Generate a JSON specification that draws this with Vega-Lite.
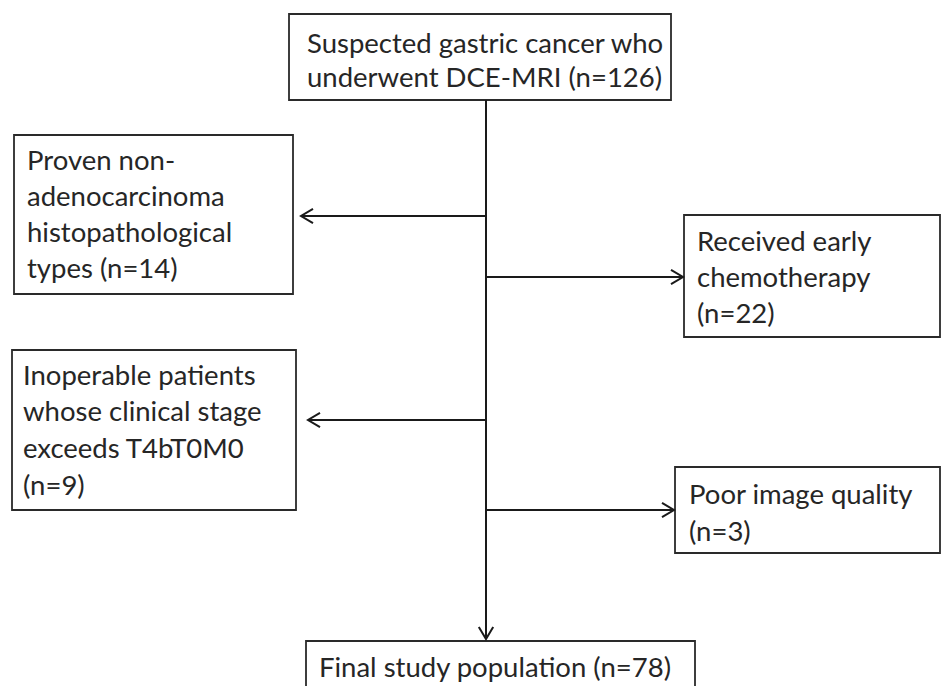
{
  "$schema": "https://vega.github.io/schema/vega-lite/v6.json",
  "width": 942,
  "height": 686,
  "padding": 0,
  "autosize": {"type": "none"},
  "background": "white",
  "config": {"view": {"stroke": null}},
  "datasets": {
    "boxes": [
      {"id": "top", "x": 289, "x2": 671, "y": 14, "y2": 100},
      {"id": "proven", "x": 14, "x2": 293, "y": 135, "y2": 294},
      {"id": "received", "x": 684, "x2": 940, "y": 215, "y2": 337},
      {"id": "inoperable", "x": 12, "x2": 296, "y": 350, "y2": 510},
      {"id": "poor", "x": 675, "x2": 940, "y": 467, "y2": 553},
      {"id": "final", "x": 306, "x2": 695, "y": 641, "y2": 700}
    ],
    "lines": [
      {"id": "trunk", "x": 486, "x2": 486, "y": 100, "y2": 638},
      {"id": "a1", "x": 486, "x2": 302, "y": 216, "y2": 216},
      {"id": "a2", "x": 486, "x2": 682, "y": 277, "y2": 277},
      {"id": "a3", "x": 486, "x2": 309, "y": 420, "y2": 420},
      {"id": "a4", "x": 486, "x2": 673, "y": 510, "y2": 510}
    ],
    "heads": [
      {"x": 301, "y": 216, "dir": "left"},
      {"x": 683, "y": 277, "dir": "right"},
      {"x": 308, "y": 420, "dir": "left"},
      {"x": 674, "y": 510, "dir": "right"},
      {"x": 486, "y": 639, "dir": "down"}
    ],
    "labels": [
      {"x": 307, "y": 45, "text": "Suspected gastric cancer who"},
      {"x": 307, "y": 79, "text": "underwent DCE-MRI (n=126)"},
      {"x": 27, "y": 162, "text": "Proven non-"},
      {"x": 27, "y": 198, "text": "adenocarcinoma"},
      {"x": 27, "y": 234, "text": "histopathological"},
      {"x": 27, "y": 270, "text": "types (n=14)"},
      {"x": 697, "y": 243, "text": "Received early"},
      {"x": 697, "y": 279, "text": "chemotherapy"},
      {"x": 697, "y": 315, "text": "(n=22)"},
      {"x": 23, "y": 377, "text": "Inoperable patients"},
      {"x": 23, "y": 413, "text": "whose clinical stage"},
      {"x": 23, "y": 450, "text": "exceeds T4bT0M0"},
      {"x": 23, "y": 487, "text": "(n=9)"},
      {"x": 689, "y": 496, "text": "Poor image quality"},
      {"x": 689, "y": 533, "text": "(n=3)"},
      {"x": 319, "y": 669, "text": "Final study population (n=78)"}
    ]
  },
  "layer": [
    {
      "data": {"name": "boxes"},
      "mark": {"type": "rect", "fill": "white", "stroke": "#2a2a2a", "strokeWidth": 1.8, "clip": true},
      "encoding": {
        "x": {"field": "x", "type": "quantitative", "scale": {"domain": [0, 942], "nice": false, "zero": false}, "axis": null},
        "x2": {"field": "x2"},
        "y": {"field": "y", "type": "quantitative", "scale": {"domain": [0, 686], "nice": false, "zero": false, "reverse": true}, "axis": null},
        "y2": {"field": "y2"}
      }
    },
    {
      "data": {"name": "lines"},
      "mark": {"type": "rule", "stroke": "#1a1a1a", "strokeWidth": 2},
      "encoding": {
        "x": {"field": "x", "type": "quantitative"},
        "x2": {"field": "x2"},
        "y": {"field": "y", "type": "quantitative"},
        "y2": {"field": "y2"}
      }
    },
    {
      "data": {"name": "heads"},
      "mark": {"type": "point", "filled": false, "stroke": "#1a1a1a", "strokeWidth": 2, "opacity": 1, "size": 576},
      "encoding": {
        "x": {"field": "x", "type": "quantitative"},
        "y": {"field": "y", "type": "quantitative"},
        "shape": {
          "field": "dir",
          "type": "nominal",
          "legend": null,
          "scale": {
            "domain": ["left", "right", "down"],
            "range": ["M1,-0.6L0,0L1,0.6", "M-1,-0.6L0,0L-1,0.6", "M-0.6,-1L0,0L0.6,-1"]
          }
        }
      }
    },
    {
      "data": {"name": "labels"},
      "mark": {"type": "text", "align": "left", "baseline": "middle", "font": "Lato", "fontSize": 27.5, "fill": "#262626"},
      "encoding": {
        "x": {"field": "x", "type": "quantitative"},
        "y": {"field": "y", "type": "quantitative"},
        "text": {"field": "text", "type": "nominal"}
      }
    }
  ]
}
